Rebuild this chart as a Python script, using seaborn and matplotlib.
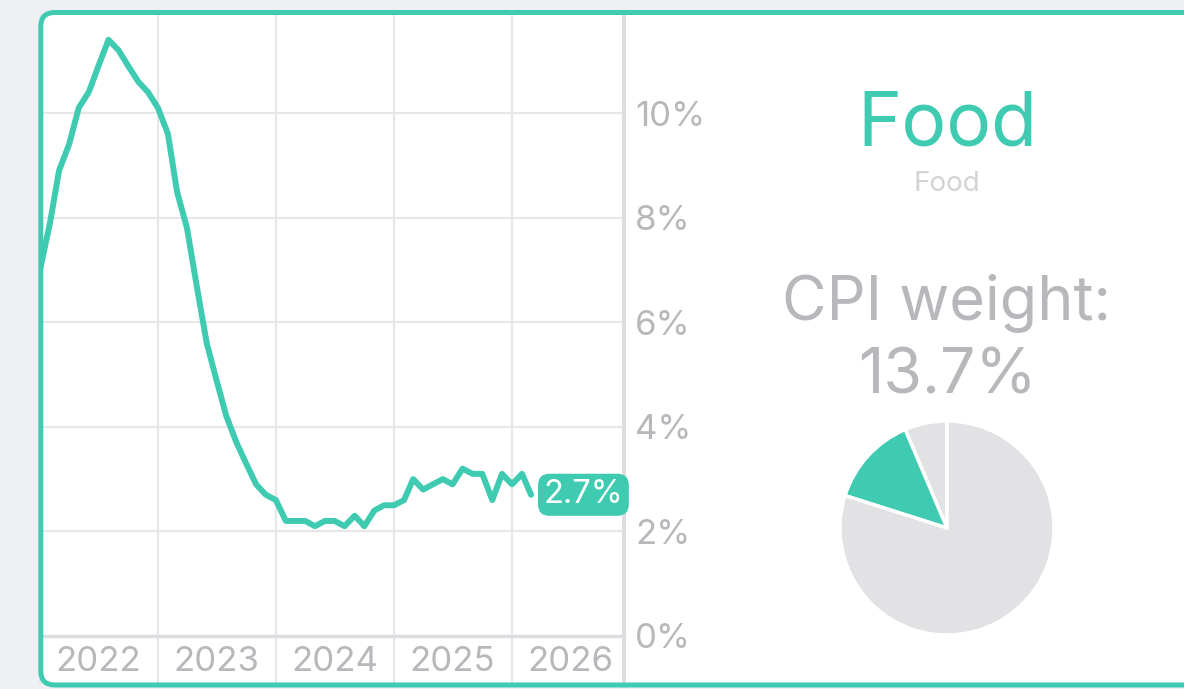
import pandas as pd
import seaborn as sns
import matplotlib.pyplot as plt
import matplotlib.dates as mdates
from matplotlib.patches import FancyBboxPatch

# colours
TEAL = "#3fcbb1"
GRID = "#e7e7e9"
AXIS = "#dedee2"
LABEL = "#b7b7bc"
SUBTLE = "#d3d3d7"
PIE_GRAY = "#e2e2e5"

# data: food CPI, year-over-year %, monthly from Jan 2022
months = pd.date_range("2022-01-01", periods=51, freq="MS")
food_yoy = [7.0, 7.9, 8.9, 9.4, 10.1, 10.4, 10.9, 11.4, 11.2, 10.9, 10.6, 10.4,
            10.1, 9.6, 8.5, 7.8, 6.7, 5.6, 4.9, 4.2, 3.7, 3.3, 2.9, 2.7,
            2.6, 2.2, 2.2, 2.2, 2.1, 2.2, 2.2, 2.1, 2.3, 2.1, 2.4, 2.5,
            2.5, 2.6, 3.0, 2.8, 2.9, 3.0, 2.9, 3.2, 3.1, 3.1, 2.6, 3.1, 2.9, 3.1, 2.7]
year_labels = ["2022", "2023", "2024", "2025", "2026"]
y_ticks = [0, 2, 4, 6, 8, 10]
y_tick_labels = ["0%", "2%", "4%", "6%", "8%", "10%"]

category = "Food"
cpi_weight = 13.7
pie_values = [6.4, cpi_weight, 79.9]
pie_colors = [PIE_GRAY, TEAL, PIE_GRAY]

sns.set_theme(style="white")
plt.rcParams["font.family"] = ["Inter", "DejaVu Sans"]

W, H = 1184, 689
fig = plt.figure(figsize=(W / 100, H / 100), dpi=100)
fig.patch.set_facecolor("#eef0f4")

# card background + border
card = FancyBboxPatch((40.8, 4), 1300, 672.5, boxstyle="round,pad=0,rounding_size=14",
                      transform=None, facecolor="white", edgecolor="none", zorder=-5)
fig.add_artist(card)
border = FancyBboxPatch((40.8, 4), 1300, 672.5, boxstyle="round,pad=0,rounding_size=14",
                        transform=None, facecolor="none", edgecolor=TEAL, linewidth=3.6, zorder=20)
fig.add_artist(border)

# line chart
ax = fig.add_axes([40 / W, (H - 636) / H, 584 / W, 622 / H])
ax.set_facecolor("none")
sns.lineplot(x=months, y=food_yoy, ax=ax, color=TEAL, zorder=3)
for ln in ax.lines:
    ln.set_linewidth(4.3)
    ln.set_solid_joinstyle("round")
    ln.set_solid_capstyle("round")

x0 = mdates.date2num(pd.Timestamp("2022-01-01"))
ax.set_xlim(x0, x0 + 584 / (118 / 365.25))
ax.set_ylim(0, 622 / 52.3)

ax.set_xticks([mdates.date2num(pd.Timestamp(f"{y}-01-01")) for y in range(2022, 2027)])
ax.set_xticks([mdates.date2num(pd.Timestamp(f"{y}-07-01")) for y in year_labels], minor=True)
ax.set_xticklabels([])
ax.set_xticklabels(year_labels, minor=True)
ax.tick_params(axis="x", which="major", direction="out", length=34.6, width=1.5,
               color=GRID, bottom=True)
ax.tick_params(axis="x", which="minor", length=0, pad=7, labelsize=25, labelcolor=LABEL)

ax.yaxis.tick_right()
ax.set_yticks(y_ticks)
ax.set_yticklabels(y_tick_labels)
ax.tick_params(axis="y", length=0, pad=8, labelsize=25, labelcolor=LABEL)

ax.grid(True, which="major", color=GRID, linewidth=1.5)
ax.set_xlabel("")
ax.set_ylabel("")

for side in ["left", "top"]:
    ax.spines[side].set_visible(False)
ax.spines["bottom"].set_color(AXIS)
ax.spines["bottom"].set_linewidth(2.5)
ax.spines["right"].set_color(AXIS)
ax.spines["right"].set_linewidth(2.9)
ax.spines["right"].set_bounds(-0.95, 622 / 52.3)

# last value badge
ax.annotate(f"{food_yoy[-1]:.1f}%", xy=(months[-1], food_yoy[-1]), xytext=(9, 0),
            textcoords="offset points", ha="left", va="center", fontsize=23.5, color="white",
            bbox=dict(boxstyle="round,pad=0.17,rounding_size=0.35", fc=TEAL, ec="none"),
            annotation_clip=False, zorder=10)

# right panel text
cx = 947 / W
fig.text(cx, 1 - 145 / H, category, ha="center", va="baseline", fontsize=54, color=TEAL)
fig.text(cx, 1 - 191 / H, category, ha="center", va="baseline", fontsize=20, color=SUBTLE)
fig.text(cx, 1 - 320 / H, "CPI weight:", ha="center", va="baseline", fontsize=44, color=LABEL)
fig.text(cx, 1 - 393 / H, f"{cpi_weight}%", ha="center", va="baseline", fontsize=45, color=LABEL)

# pie of CPI weight
r = 107
pax = fig.add_axes([(947 - r) / W, (H - 528 - r) / H, 2 * r / W, 2 * r / H])
pax.pie(pie_values, colors=pie_colors, startangle=90, counterclock=True,
        wedgeprops=dict(edgecolor="white", linewidth=2.5))
pax.set_xlim(-1, 1)
pax.set_ylim(-1, 1)
pax.set_aspect("equal")
pax.axis("off")

fig.savefig("out.png", dpi=100, facecolor=fig.get_facecolor())
